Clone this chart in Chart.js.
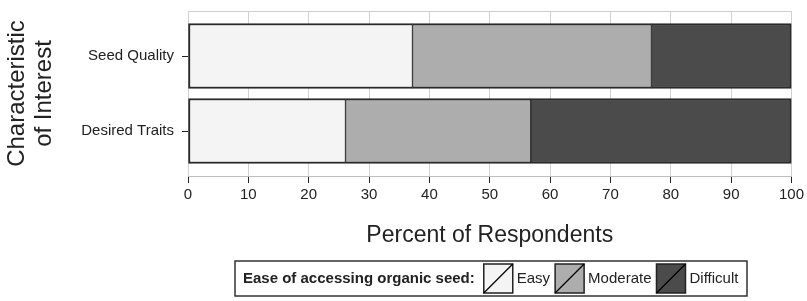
<!DOCTYPE html>
<html>
<head>
<meta charset="utf-8">
<script src="https://cdn.jsdelivr.net/npm/chart.js@4"></script>
<style>
  html, body { margin: 0; padding: 0; background: #fff; }
  #wrap { position: relative; width: 807px; height: 301px; }
</style>
</head>
<body>
<div id="wrap"><canvas id="myChart"></canvas></div>
<script>
// data (percent of respondents)
const categories = ['Seed Quality', 'Desired Traits'];
const easy = [37.2, 26.1];
const moderate = [39.6, 30.7];
const difficult = [23.2, 43.2];
const seriesNames = ['Easy', 'Moderate', 'Difficult'];
const seriesColors = ['#f4f4f4', '#adadad', '#4b4b4b'];
const xTitle = 'Percent of Respondents';
const yTitle = ['Characteristic', 'of Interest'];
const legendTitle = 'Ease of accessing organic seed:';

const FONT = "'Liberation Sans', Arial, sans-serif";
const ink = '#222';

function toPoints(values) {
    return values.map((v, i) => ({ x: v, y: i }));
}

// borders: thin where the segments meet, thicker on the outside
const borderSides = [
    { top: 2, bottom: 2, left: 2, right: 1 },
    { top: 2, bottom: 2, left: 1, right: 1 },
    { top: 2, bottom: 2, left: 1, right: 2 }
];

const datasets = [easy, moderate, difficult].map((vals, k) => ({
    label: seriesNames[k],
    data: toPoints(vals),
    stack: 'all',
    backgroundColor: seriesColors[k],
    borderColor: '#2a2a2a',
    borderWidth: borderSides[k],
    borderSkipped: false,
    barThickness: 65
}));

// panel top line + the boxed key under the axis title
const frameAndKey = {
    id: 'frameAndKey',
    beforeDatasetsDraw(chart) {
        const { ctx, chartArea: a } = chart;
        ctx.save();
        ctx.strokeStyle = '#cfcfcf';
        ctx.lineWidth = 1;
        ctx.beginPath();
        ctx.moveTo(a.left, a.top + 0.5);
        ctx.lineTo(a.right, a.top + 0.5);
        ctx.stroke();
        ctx.restore();
    },
    afterDraw(chart) {
        const ctx = chart.ctx;
        const box = { left: 235, top: 261, right: 747, bottom: 296 };
        const sq = 29, sqTop = 264, midY = 279;
        ctx.save();
        ctx.strokeStyle = '#333';
        ctx.lineWidth = 1.5;
        ctx.strokeRect(box.left, box.top, box.right - box.left, box.bottom - box.top);

        ctx.fillStyle = ink;
        ctx.textBaseline = 'middle';
        ctx.textAlign = 'left';
        ctx.font = 'bold 15px ' + FONT;
        let x = 243;
        ctx.fillText(legendTitle, x, midY);
        x += ctx.measureText(legendTitle).width + 9;

        ctx.font = '15px ' + FONT;
        chart.data.datasets.forEach(ds => {
            ctx.fillStyle = ds.backgroundColor;
            ctx.fillRect(x, sqTop, sq, sq);
            ctx.strokeStyle = '#222';
            ctx.lineWidth = 1.5;
            ctx.strokeRect(x, sqTop, sq, sq);
            ctx.beginPath();
            ctx.moveTo(x, sqTop + sq);
            ctx.lineTo(x + sq, sqTop);
            ctx.lineWidth = 1.2;
            ctx.strokeStyle = '#000';
            ctx.stroke();
            x += sq + 4;
            ctx.fillStyle = ink;
            ctx.fillText(ds.label, x, midY);
            x += ctx.measureText(ds.label).width + 5;
        });
        ctx.restore();
    }
};

const ctx = document.getElementById('myChart').getContext('2d');
new Chart(ctx, {
    type: 'bar',
    data: { datasets: datasets },
    plugins: [frameAndKey],
    options: {
        indexAxis: 'y',
        responsive: true,
        maintainAspectRatio: false,
        animation: false,
        layout: { padding: { top: 11, right: 12, left: 0, bottom: 0 } },
        plugins: { legend: { display: false }, tooltip: { enabled: false } },
        scales: {
            x: {
                type: 'linear',
                stacked: true,
                min: 0,
                max: 100,
                afterFit: s => { s.height = 125; },
                ticks: { stepSize: 10, color: ink, padding: 3, font: { family: FONT, size: 15 } },
                grid: { color: '#d2d2d2', tickColor: ink, tickLength: 7, lineWidth: 1 },
                border: { display: true, color: '#bdbdbd', width: 1 },
                title: {
                    display: true,
                    text: xTitle,
                    color: ink,
                    font: { family: FONT, size: 23, lineHeight: 1.2 },
                    padding: { top: 0, bottom: 52 }
                }
            },
            y: {
                type: 'linear',
                offset: false,
                bounds: 'data',
                reverse: true,
                min: -0.6,
                max: 1.6,
                afterFit: s => { s.width = 188; s.paddingTop = 0; s.paddingBottom = 0; },
                afterBuildTicks: s => { s.ticks = categories.map((c, i) => ({ value: i })); },
                ticks: {
                    color: ink,
                    padding: 8,
                    autoSkip: false,
                    font: { family: FONT, size: 15 },
                    callback: (v, i) => categories[i]
                },
                grid: { offset: false, drawOnChartArea: false, tickColor: ink, tickLength: 6 },
                border: { display: false },
                title: {
                    display: true,
                    text: yTitle,
                    color: ink,
                    font: { family: FONT, size: 24, lineHeight: 1.12 },
                    padding: { top: 4, bottom: 0 }
                }
            }
        }
    }
});
</script>
</body>
</html>
